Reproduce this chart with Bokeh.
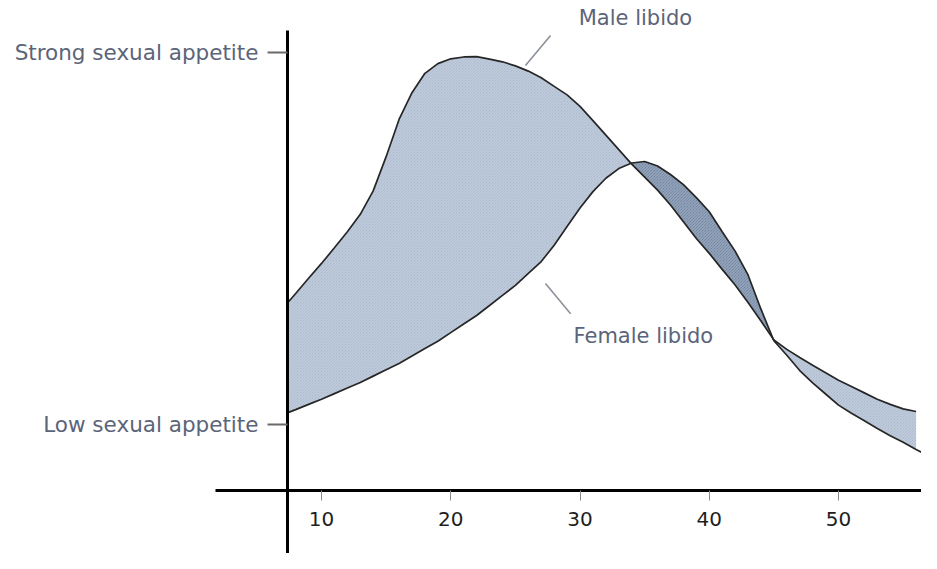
from bokeh.plotting import figure
from bokeh.models import LinearAxis, FixedTicker, Range1d, Label
from bokeh.embed import file_html
from bokeh.resources import INLINE

nan = float("nan")

# ---- data ----
ages = [7.4, 8, 9, 10, 11, 12, 13, 14, 15, 16, 17, 18, 19, 20, 21, 22, 23, 24, 25,
        26, 27, 28, 29, 30, 31, 32, 33, 34, 35, 36, 37, 38, 39, 40, 41, 42, 43, 44,
        45, 46, 47, 48, 49, 50, 51, 52, 53, 54, 55, 56, 57]
male_libido = [3.28, 3.52, 3.93, 4.33, 4.75, 5.18, 5.65, 6.28, 7.20, 8.20, 8.92, 9.44,
               9.70, 9.83, 9.88, 9.89, 9.82, 9.75, 9.64, 9.50, 9.32, 9.09, 8.86, 8.55,
               8.17, 7.78, 7.39, 7.00, 6.65, 6.30, 5.90, 5.45, 5.00, 4.60, 4.17, 3.75,
               3.28, 2.78, 2.27, 2.02, 1.80, 1.59, 1.39, 1.19, 1.02, 0.85, 0.68, 0.54,
               0.42, 0.35, nan]
female_libido = [0.32, 0.40, 0.54, 0.68, 0.83, 0.98, 1.13, 1.30, 1.47, 1.64, 1.84, 2.04,
                 2.24, 2.47, 2.70, 2.93, 3.20, 3.47, 3.74, 4.06, 4.38, 4.82, 5.32, 5.82,
                 6.26, 6.62, 6.88, 7.03, 7.07, 6.95, 6.72, 6.45, 6.10, 5.72, 5.18, 4.66,
                 4.02, 3.10, 2.25, 1.86, 1.45, 1.12, 0.82, 0.52, 0.30, 0.10, -0.11, -0.30,
                 -0.48, -0.67, -0.85]
crossings = [34, 45]          # ages where the two curves cross
fill_end_age = 56

x_ticks = [10, 20, 30, 40, 50]
y_ticks = [0, 10]
y_tick_labels = {0: "Low sexual appetite", 10: "Strong sexual appetite"}

# annotation anchors (age, level)
male_label = (29.9, 10.93)
male_leader = ([27.72, 25.78], [10.46, 9.65])
female_label = (29.5, 2.37)
female_leader = ([27.33, 29.27], [3.79, 2.98])

# ---- figure ----
p = figure(width=921, height=553, output_backend="svg", toolbar_location=None,
           x_axis_location=None, y_axis_location=None,
           x_range=Range1d(-14.836, 56.42), y_range=Range1d(-3.468, 11.398),
           min_border=0)
p.xgrid.visible = False
p.ygrid.visible = False
p.outline_line_color = None
p.background_fill_color = "white"
p.border_fill_color = "white"

FONT = "DejaVu Sans"
LABEL_COLOR = "#5b6479"

# fills between curves
i1 = ages.index(crossings[0])
i2 = ages.index(crossings[1])
i3 = ages.index(fill_end_age)
segments = [(0, i1, "#a2b3ca"), (i1, i2, "#617899"), (i2, i3, "#a2b3ca")]
for a, b, col in segments:
    p.varea(x=ages[a:b + 1], y1=female_libido[a:b + 1], y2=male_libido[a:b + 1],
            fill_color=col, fill_alpha=1.0,
            hatch_pattern="\\", hatch_color="white", hatch_alpha=0.4,
            hatch_scale=3, hatch_weight=1)

# curves
p.line(ages, male_libido, line_color="#262626", line_width=1.7)
p.line(ages, female_libido, line_color="#262626", line_width=1.7)

# leader lines
p.line(male_leader[0], male_leader[1], line_color="#8a8f99", line_width=1.6)
p.line(female_leader[0], female_leader[1], line_color="#8a8f99", line_width=1.6)

p.add_layout(Label(x=male_label[0], y=male_label[1], text="Male libido",
                   text_font=FONT, text_font_size="21px", text_color=LABEL_COLOR,
                   text_baseline="middle", text_align="left"))
p.add_layout(Label(x=female_label[0], y=female_label[1], text="Female libido",
                   text_font=FONT, text_font_size="21px", text_color=LABEL_COLOR,
                   text_baseline="middle", text_align="left"))

# axes
xaxis = LinearAxis(fixed_location=-1.774, bounds=(1.8, 56.42),
                   ticker=FixedTicker(ticks=x_ticks))
xaxis.axis_line_color = "black"
xaxis.axis_line_width = 3
xaxis.major_tick_out = 10
xaxis.major_tick_in = 0
xaxis.major_tick_line_color = "#8a8a8a"
xaxis.major_tick_line_width = 1
xaxis.minor_tick_line_color = None
xaxis.major_label_text_font = FONT
xaxis.major_label_text_font_size = "20px"
xaxis.major_label_text_color = "#1e1e1e"
xaxis.major_label_standoff = 12
p.add_layout(xaxis, "below")

yaxis = LinearAxis(fixed_location=7.369, bounds=(-3.468, 10.59),
                   ticker=FixedTicker(ticks=y_ticks))
yaxis.axis_line_color = "black"
yaxis.axis_line_width = 3
yaxis.major_tick_out = 20
yaxis.major_tick_in = 0
yaxis.major_tick_line_color = "#6a6a6a"
yaxis.major_tick_line_width = 2
yaxis.minor_tick_line_color = None
yaxis.major_label_overrides = y_tick_labels
yaxis.major_label_orientation = "horizontal"
yaxis.major_label_text_font = FONT
yaxis.major_label_text_font_size = "21.5px"
yaxis.major_label_text_color = LABEL_COLOR
yaxis.major_label_standoff = 9
p.add_layout(yaxis, "left")

open("out.html", "w").write(file_html(p, INLINE))
